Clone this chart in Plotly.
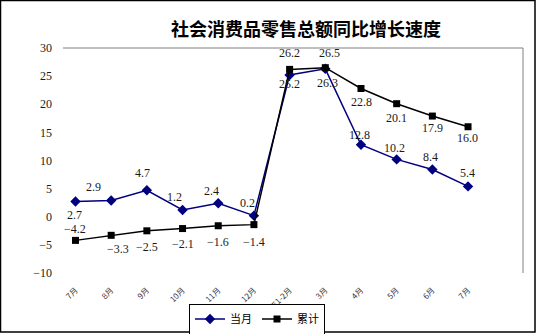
import plotly.graph_objects as go

# Categories and series
months = ["7月", "8月", "9月", "10月", "11月", "12月", "2021年1-2月", "3月", "4月", "5月", "6月", "7月"]
monthly = [2.7, 2.9, 4.7, 1.2, 2.4, 0.2, 25.2, 26.3, 12.8, 10.2, 8.4, 5.4]
cumulative = [-4.2, -3.3, -2.5, -2.1, -1.6, -1.4, 26.2, 26.5, 22.8, 20.1, 17.9, 16.0]
y_ticks = [-10, -5, 0, 5, 10, 15, 20, 25, 30]

# Label placement offsets in pixels (dx, dy; dy positive = downward)
monthly_off = [(-1, 13), (-18, -13), (-4, -17), (-8, -13), (-7, -12), (-6, -13),
               (0, 9), (2, 14), (-1, -10), (-2, -11), (-2, -13), (-1, -13)]
cumulative_off = [(0, -11), (7, 14), (0, 16), (0, 15), (0, 16), (0, 17),
                  (0, -16), (4, -15), (1, 13), (0, 14), (0, 12), (-1, 11)]

idx = list(range(len(months)))

fig = go.Figure()
fig.add_trace(go.Scatter(
    x=idx, y=monthly, name="当月", mode="lines+markers",
    line=dict(color="#000080", width=1.5),
    marker=dict(symbol="diamond", size=8, color="#000080"),
))
fig.add_trace(go.Scatter(
    x=idx, y=cumulative, name="累计", mode="lines+markers",
    line=dict(color="#000000", width=1.5),
    marker=dict(symbol="square", size=7, color="#000000"),
))

label_font = dict(family="Liberation Serif", size=12, color="#1a1a1a")


def fmt(v):
    s = f"{abs(v):.1f}"
    return ("\u2212" + s) if v < 0 else s


annotations = []
for series, offs in ((monthly, monthly_off), (cumulative, cumulative_off)):
    for i, (v, (dx, dy)) in enumerate(zip(series, offs)):
        annotations.append(dict(
            x=i, y=v, xref="x", yref="y", text=fmt(v), showarrow=False,
            xshift=dx, yshift=-dy, font=label_font,
        ))

# Plot area geometry (pixels)
W, H = 536, 334
L, R, T, B = 63, 13, 48, 61
pw, ph = W - L - R, H - T - B


def px(x):
    return (x - L) / pw


def py(y):
    return (H - B - y) / ph


shapes = [
    # plot area frame (top and right edges)
    dict(type="line", xref="paper", yref="paper", x0=px(63), x1=px(523), y0=1, y1=1,
         line=dict(color="#808080", width=1)),
    dict(type="line", xref="paper", yref="paper", x0=px(523), x1=px(523), y0=0, y1=1,
         line=dict(color="#808080", width=1)),
    # chart outer frame
    dict(type="rect", xref="paper", yref="paper", x0=px(0.5), x1=px(535), y0=py(332), y1=py(0.5),
         line=dict(color="#000000", width=1.5), fillcolor="rgba(0,0,0,0)", layer="above"),
]

fig.update_layout(
    width=W, height=H,
    margin=dict(l=L, r=R, t=T, b=B, autoexpand=False),
    paper_bgcolor="white", plot_bgcolor="white",
    title=dict(
        text="<b>社会消费品零售总额同比增长速度</b>",
        x=306 / W, xref="container", xanchor="center",
        y=1 - 30 / H, yref="container", yanchor="middle",
        font=dict(family="Noto Sans CJK SC", size=18, color="#000000"),
    ),
    xaxis=dict(
        range=[-0.35, 12.54], tickmode="array", tickvals=idx, ticktext=months,
        tickangle=-45, showgrid=False, zeroline=False, showline=False, ticks="",
        tickfont=dict(family="Noto Sans CJK SC", size=8, color="#333333"),
        ticklabelstandoff=10, automargin=False,
    ),
    yaxis=dict(
        range=[-10, 30], tickmode="array", tickvals=y_ticks,
        showgrid=False, zeroline=False, showline=False, ticks="",
        tickfont=dict(family="Liberation Serif", size=12, color="#1a1a1a"),
        ticklabelstandoff=10, automargin=False,
    ),
    legend=dict(
        orientation="h", xref="container", yref="container",
        x=257 / W, y=1 - 319 / H, xanchor="center", yanchor="middle",
        bgcolor="white", bordercolor="#000000", borderwidth=1,
        font=dict(family="Noto Sans CJK SC", size=11, color="#000000"),
        itemwidth=30, tracegroupgap=0,
    ),
    annotations=annotations,
    shapes=shapes,
    showlegend=True,
)

fig.write_html("out.html")
